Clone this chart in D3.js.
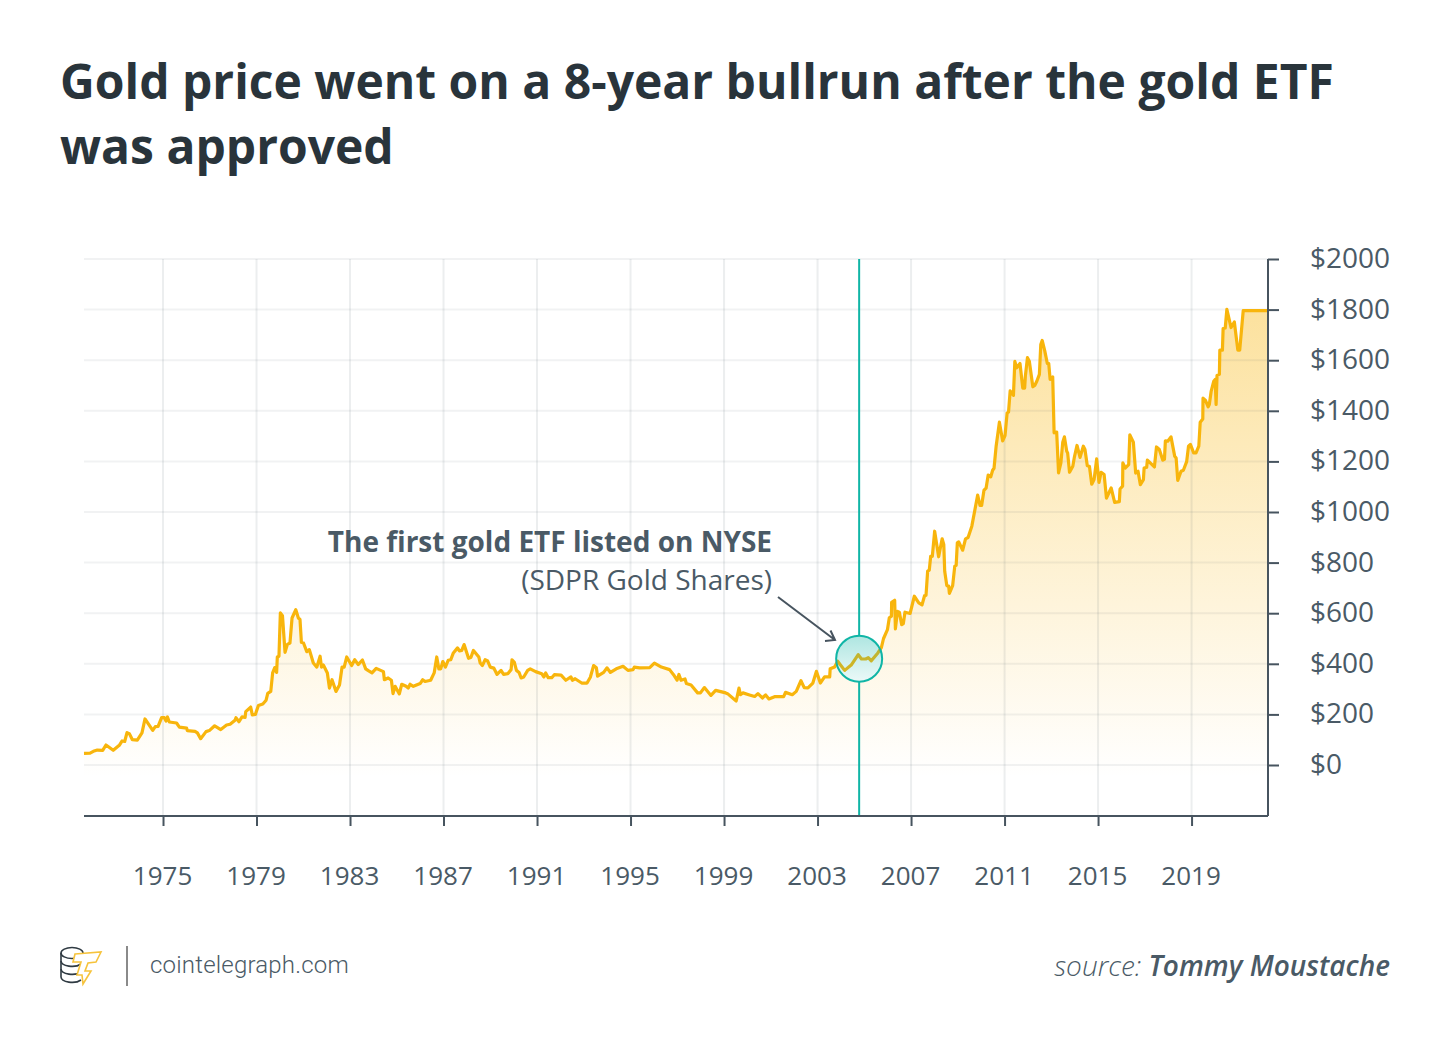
<!DOCTYPE html>
<html><head><meta charset="utf-8">
<script src="https://cdn.jsdelivr.net/npm/d3@7"></script>
<style>
html,body{margin:0;padding:0;background:#fff}
svg{display:block}
text{font-family:"Open Sans",sans-serif}
</style></head><body>
<svg id="c" width="1450" height="1046"></svg>
<script>
const titleLines = ["Gold price went on a 8-year bullrun after the gold ETF","was approved"];
const yTicks = [0,200,400,600,800,1000,1200,1400,1600,1800,2000];
const xTicks = [1975,1979,1983,1987,1991,1995,1999,2003,2007,2011,2015,2019];
const etfYear = 2004.78, etfPrice = 420;
const noteBold = "The first gold ETF listed on NYSE", noteLight = "(SDPR Gold Shares)";
const priceSeventies = [[1971.62,46],[1971.88,47],[1972.02,54],[1972.19,59],[1972.42,58],[1972.56,79],[1972.87,58],[1973.13,78],[1973.25,95],[1973.36,93],[1973.46,128],[1973.56,124],[1973.69,100],[1973.90,98],[1974.10,127],[1974.23,182],[1974.56,137],[1974.67,152],[1974.79,153],[1974.94,187],[1975.06,187],[1975.13,174],[1975.19,190],[1975.27,170],[1975.58,166],[1975.70,150],[1976.01,146],[1976.04,136],[1976.37,133],[1976.47,127],[1976.61,104],[1976.84,132],[1976.98,136],[1977.21,155],[1977.47,140],[1977.72,158],[1977.87,161],[1978.08,177],[1978.12,187],[1978.25,171],[1978.38,190],[1978.51,188],[1978.54,211],[1978.75,229],[1978.82,198],[1978.95,200],[1979.08,235],[1979.27,241],[1979.41,256],[1979.48,283],[1979.61,291],[1979.69,364],[1979.78,385],[1979.86,366],[1979.89,427],[1979.96,430]];
const priceEighties = [[1980.02,601],[1980.11,590],[1980.22,445],[1980.32,477],[1980.43,482],[1980.52,581],[1980.68,614],[1980.79,581],[1980.86,575],[1980.92,485],[1981.01,482],[1981.15,448],[1981.26,456],[1981.43,403],[1981.58,387],[1981.72,430],[1981.78,387],[1981.86,395],[1982.03,364],[1982.12,304],[1982.23,337],[1982.40,291],[1982.55,316],[1982.66,387],[1982.75,387],[1982.86,427],[1983.07,393],[1983.20,416],[1983.35,397],[1983.53,415],[1983.67,380],[1983.80,372],[1983.94,364],[1984.12,382],[1984.43,369],[1984.47,337],[1984.63,344],[1984.77,335],[1984.84,282],[1984.93,311],[1985.11,281],[1985.21,319],[1985.40,311],[1985.49,304],[1985.57,319],[1985.71,311],[1986.00,322],[1986.11,337],[1986.21,330],[1986.45,335],[1986.60,364],[1986.71,427],[1986.80,380],[1986.88,380],[1986.97,409],[1987.08,387],[1987.20,414],[1987.31,416],[1987.42,443],[1987.60,463],[1987.68,451],[1987.78,453],[1987.88,476],[1988.07,422],[1988.17,425],[1988.28,453],[1988.51,427],[1988.57,403],[1988.66,393],[1988.78,416],[1988.89,411],[1989.00,387],[1989.15,383],[1989.29,358],[1989.46,374],[1989.57,358],[1989.75,361],[1989.89,377],[1989.93,416]];
const priceNineties = [[1990.03,406],[1990.12,374],[1990.23,366],[1990.32,344],[1990.43,348],[1990.60,374],[1990.71,380],[1990.94,369],[1991.20,361],[1991.29,348],[1991.37,364],[1991.48,345],[1991.63,345],[1991.74,357],[1992.03,355],[1992.23,335],[1992.45,348],[1992.51,335],[1992.63,341],[1992.91,324],[1993.14,324],[1993.28,347],[1993.42,393],[1993.54,384],[1993.59,351],[1993.85,366],[1993.99,384],[1994.14,366],[1994.39,380],[1994.68,390],[1994.89,374],[1995.11,377],[1995.16,387],[1995.39,384],[1995.82,385],[1996.02,403],[1996.32,387],[1996.67,377],[1996.84,357],[1996.99,335],[1997.07,358],[1997.16,335],[1997.33,340],[1997.39,322],[1997.59,316],[1997.87,285],[1997.99,285],[1998.16,306],[1998.44,275],[1998.64,295],[1999.07,285],[1999.15,282],[1999.52,253],[1999.64,304],[1999.70,278],[1999.81,285]];
const priceTwoThousands = [[2000.09,277],[2000.31,271],[2000.45,282],[2000.64,265],[2000.78,277],[2000.92,261],[2001.16,270],[2001.55,270],[2001.63,287],[2001.92,278],[2002.09,291],[2002.29,333],[2002.43,306],[2002.59,305],[2002.80,324],[2002.95,370],[2003.12,324],[2003.30,348],[2003.52,348],[2003.54,380],[2003.73,387],[2003.86,410],[2004.16,374],[2004.44,395],[2004.74,436],[2004.88,419],[2005.06,419],[2005.17,424],[2005.30,412],[2005.58,443],[2005.73,464],[2005.82,499],[2005.99,535],[2006.07,582],[2006.16,588],[2006.17,643],[2006.30,651],[2006.33,538],[2006.42,607],[2006.50,604],[2006.60,555],[2006.67,559],[2006.74,604],[2006.96,599],[2007.14,667],[2007.33,641],[2007.47,633],[2007.58,670],[2007.64,670],[2007.71,766],[2007.78,770],[2007.84,825],[2007.91,825],[2008.01,924],[2008.18,823],[2008.33,894],[2008.40,872],[2008.44,766],[2008.53,709],[2008.61,707],[2008.64,678],[2008.78,709],[2008.87,786],[2008.93,789],[2008.98,878],[2009.04,882],[2009.21,849],[2009.33,894],[2009.44,899],[2009.60,944],[2009.85,1067],[2009.95,1026]];
const priceTens = [[2010.02,1026],[2010.12,1086],[2010.21,1094],[2010.30,1146],[2010.41,1139],[2010.49,1165],[2010.55,1173],[2010.64,1260],[2010.78,1355],[2010.92,1281],[2011.02,1302],[2011.11,1392],[2011.17,1395],[2011.24,1479],[2011.38,1461],[2011.44,1595],[2011.52,1570],[2011.66,1587],[2011.78,1490],[2011.86,1490],[2011.89,1537],[2011.98,1610],[2012.06,1596],[2012.21,1495],[2012.29,1500],[2012.38,1517],[2012.49,1544],[2012.55,1662],[2012.61,1678],[2012.72,1637],[2012.83,1587],[2012.89,1587],[2012.95,1524],[2013.06,1534],[2013.12,1313],[2013.23,1316],[2013.31,1155],[2013.41,1194],[2013.49,1276],[2013.56,1297],[2013.66,1240],[2013.70,1233],[2013.78,1157],[2013.92,1181],[2013.99,1218],[2014.10,1263],[2014.23,1216],[2014.37,1260],[2014.44,1247],[2014.54,1183],[2014.63,1181],[2014.73,1110],[2014.83,1128],[2014.94,1210],[2015.04,1117],[2015.13,1157],[2015.26,1148],[2015.36,1055],[2015.56,1095],[2015.71,1038],[2015.91,1041],[2015.94,1091],[2016.05,1102],[2016.06,1194],[2016.17,1174],[2016.31,1187],[2016.36,1305],[2016.51,1276],[2016.61,1154],[2016.71,1161],[2016.81,1108],[2016.94,1128],[2016.97,1174],[2017.08,1177],[2017.11,1205],[2017.41,1178],[2017.50,1257],[2017.62,1247],[2017.77,1205],[2017.84,1208],[2017.88,1281],[2017.98,1280],[2018.12,1297],[2018.28,1220],[2018.34,1213],[2018.41,1125],[2018.55,1161],[2018.65,1165],[2018.79,1199],[2018.87,1260],[2018.95,1267],[2019.09,1234],[2019.19,1234],[2019.31,1260],[2019.37,1355],[2019.48,1368],[2019.49,1450],[2019.59,1442],[2019.71,1416],[2019.76,1425],[2019.84,1478],[2019.95,1517]];
const priceTwenties = [[2020.01,1524],[2020.05,1425],[2020.09,1540],[2020.19,1544],[2020.21,1640],[2020.32,1640],[2020.35,1725],[2020.44,1727],[2020.51,1801],[2020.69,1729],[2020.83,1751],[2020.98,1640],[2021.06,1640],[2021.21,1796],[2022.25,1796]];
const series = [...priceSeventies,...priceEighties,...priceNineties,...priceTwoThousands,...priceTens,...priceTwenties];

const svg = d3.select("#c");
const x = d3.scaleLinear().domain([1971.62,2022.27]).range([84,1268]);
const y = d3.scaleLinear().domain([0,2000]).range([765,259]);
const plotBottom = 816, plotLeft = 84, plotRight = 1268, plotTop = 259;
const axisColor = "#47545f", textColor = "#4a5a66", teal = "#10b5a6", gold = "#f8b50c";

const defs = svg.append("defs");
const ag = defs.append("linearGradient").attr("id","areaFill").attr("gradientUnits","userSpaceOnUse")
  .attr("x1",0).attr("x2",0).attr("y1",y(1800)).attr("y2",y(-50));
ag.append("stop").attr("offset",0).attr("stop-color","#f8b50c").attr("stop-opacity",0.4);
ag.append("stop").attr("offset",1).attr("stop-color","#f8b50c").attr("stop-opacity",0);
const cg = defs.append("linearGradient").attr("id","circleFill").attr("x1",0).attr("x2",0).attr("y1",0).attr("y2",1);
cg.append("stop").attr("offset",0).attr("stop-color",teal).attr("stop-opacity",0.34);
cg.append("stop").attr("offset",1).attr("stop-color",teal).attr("stop-opacity",0.08);

// title
svg.append("g").selectAll("text").data(titleLines).join("text")
  .attr("x",60).attr("y",(d,i)=>99+i*65)
  .attr("font-size",48).attr("font-weight",700).attr("fill","#29343b").text(d=>d);

// area + line
const area = d3.area().x(d=>x(d[0])).y0(plotBottom).y1(d=>y(d[1]));
const line = d3.line().x(d=>x(d[0])).y(d=>y(d[1]));
svg.append("path").datum(series).attr("d",area).attr("fill","url(#areaFill)");

// grid
const grid = svg.append("g").attr("fill","none");
grid.selectAll(".h").data(yTicks).join("line").attr("class","h")
  .attr("x1",plotLeft).attr("x2",plotRight).attr("y1",d=>y(d)).attr("y2",d=>y(d))
  .attr("stroke","rgba(71,84,95,0.075)").attr("stroke-width",2);
grid.selectAll(".v").data(xTicks).join("line").attr("class","v")
  .attr("x1",d=>x(d)).attr("x2",d=>x(d)).attr("y1",plotTop).attr("y2",plotBottom)
  .attr("stroke","rgba(71,84,95,0.1)").attr("stroke-width",2);

// ETF line, interrupted by the circle
const cx = x(etfYear), cy = y(etfPrice), r = 23;
svg.append("g").selectAll("line").data([[plotTop,cy],[cy,plotBottom]]).join("line")
  .attr("x1",cx).attr("x2",cx).attr("y1",d=>d[0]).attr("y2",d=>d[1])
  .attr("stroke",teal).attr("stroke-width",2);
svg.append("circle").attr("cx",cx).attr("cy",cy).attr("r",r).attr("fill","#fff");

svg.append("path").datum(series).attr("d",line).attr("fill","none")
  .attr("stroke",gold).attr("stroke-width",3.2).attr("stroke-linejoin","round");

svg.append("circle").attr("cx",cx).attr("cy",cy).attr("r",r)
  .attr("fill","url(#circleFill)").attr("stroke",teal).attr("stroke-width",2);

// axes
const yAxis = svg.append("g").attr("transform",`translate(${plotRight},0)`)
  .call(d3.axisRight(y).tickValues(yTicks).tickSize(11).tickPadding(31).tickFormat(d=>"$"+d));
yAxis.select(".domain").remove();
yAxis.append("line").attr("y1",plotTop).attr("y2",plotBottom).attr("stroke",axisColor).attr("stroke-width",2);
const xAxis = svg.append("g").attr("transform",`translate(0,${plotBottom})`)
  .call(d3.axisBottom(x).tickValues(xTicks).tickSize(10).tickPadding(41).tickFormat(d3.format("d")));
xAxis.select(".domain").remove();
xAxis.append("line").attr("x1",plotLeft).attr("x2",plotRight).attr("stroke",axisColor).attr("stroke-width",2);
svg.selectAll(".tick line").attr("stroke",axisColor).attr("stroke-width",2);
xAxis.selectAll(".tick text").attr("fill",textColor).attr("font-size",26).attr("font-family",'"Open Sans",sans-serif').attr("dx",-1);
yAxis.selectAll(".tick text").attr("fill",textColor).attr("font-size",28).attr("font-family",'"Open Sans",sans-serif').attr("dy","0.3em");

// annotation
svg.append("text").attr("x",772).attr("y",552).attr("text-anchor","end").attr("font-size",28).attr("font-weight",700).attr("fill",textColor).text(noteBold);
svg.append("text").attr("x",772).attr("y",590).attr("text-anchor","end").attr("font-size",28).attr("fill",textColor).text(noteLight);
svg.append("path").attr("d","M778,597L835,640M825,641L835,640L830.5,630.5").attr("fill","none").attr("stroke",axisColor).attr("stroke-width",2);

// footer
const logo = svg.append("g").attr("fill","none");
[953,961,969,977].forEach((yy,i)=>{
  logo.append("path").attr("d",i===0
    ? `M61,${yy}a11,5.5 0 1 1 22,0a11,5.5 0 0 1 -22,0`
    : `M61,${yy-8}v8a11,5.5 0 0 0 20,3`).attr("stroke","#2f3a42").attr("stroke-width",1.6);
});
logo.append("path").attr("d","M75,954L101,952L96,962L88,963L85,971L91,971L83,984L82,975L77,975L81,962L73,962Z")
  .attr("fill","#fff").attr("stroke","#f6c33c").attr("stroke-width",1.6);
svg.append("line").attr("x1",127).attr("x2",127).attr("y1",946).attr("y2",986).attr("stroke","#8a8a8a").attr("stroke-width",2);
svg.append("text").attr("x",150).attr("y",973).attr("font-size",24).attr("font-weight",300).attr("fill",textColor)
  .style("font-family","Roboto,sans-serif").attr("letter-spacing",0.2).text("cointelegraph.com");
const src = svg.append("text").attr("x",1390).attr("y",976).attr("text-anchor","end").attr("font-size",28).attr("font-style","italic").attr("fill",textColor);
src.append("tspan").attr("font-weight",300).text("source: ");
src.append("tspan").attr("font-weight",600).text("Tommy Moustache");
</script>
</body></html>
